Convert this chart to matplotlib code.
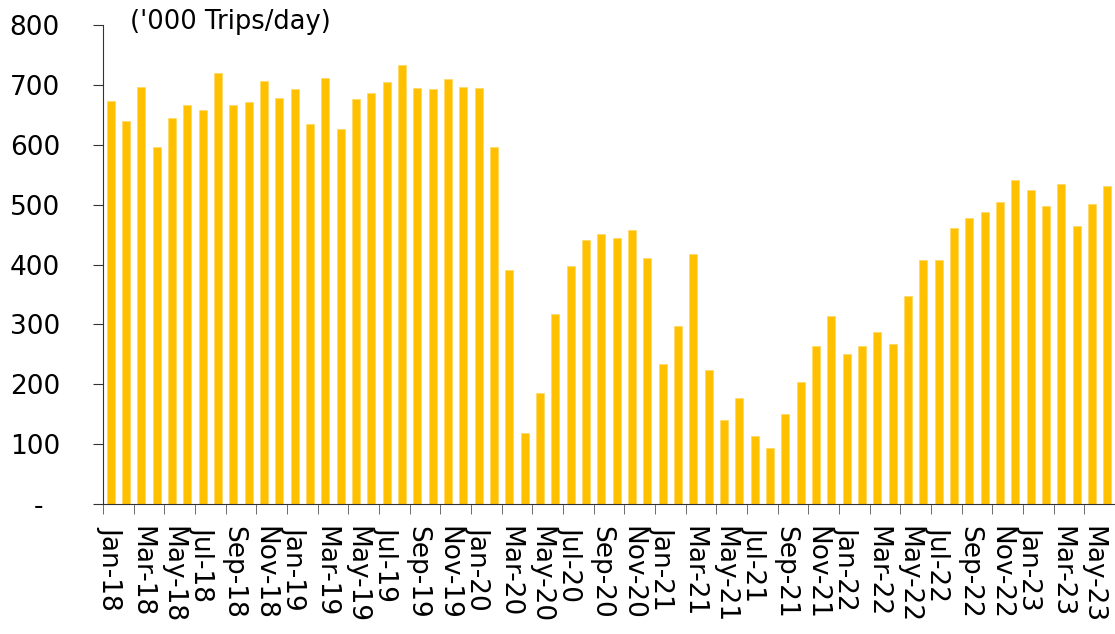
import matplotlib.pyplot as plt
import numpy as np

months = ["Jan", "Feb", "Mar", "Apr", "May", "Jun", "Jul", "Aug", "Sep", "Oct", "Nov", "Dec"]
labels = [f"{m}-{y}" for y in range(18, 24) for m in months][:66]

trips = [673, 639, 696, 596, 644, 667, 658, 719, 666, 671, 706, 678,
         693, 634, 711, 626, 677, 687, 705, 733, 694, 693, 710, 696,
         695, 597, 391, 118, 185, 317, 397, 441, 451, 445, 457, 411,
         234, 297, 417, 224, 140, 177, 114, 94, 151, 204, 264, 314,
         251, 264, 288, 268, 348, 408, 408, 461, 477, 487, 504, 541,
         524, 498, 534, 464, 501, 531]

x = np.arange(len(trips))

fig = plt.figure(figsize=(11.15, 6.34), dpi=100)
ax = fig.add_axes([0.0924, 0.205, 0.9076, 0.7556])

ax.bar(x, trips, width=0.52, color="#FFC000", edgecolor="#FFD966", linewidth=0.6)

ax.set_xlim(-0.5, 65.2)
ax.set_ylim(0, 800)

# zero shown as "-" like an accounting format
ax.set_yticks(np.arange(0, 801, 100))
ax.set_yticklabels(["-  "] + [str(v) for v in range(100, 801, 100)], fontsize=19)

ax.set_xticks(x[::2])
ax.set_xticklabels(labels[::2], rotation=270, fontsize=19)
ax.set_xticks(np.arange(-0.5, 66, 2), minor=True)
ax.tick_params(axis="x", which="major", length=0, pad=16)
ax.tick_params(axis="x", which="minor", length=7, direction="out", color="#555555")
ax.tick_params(axis="y", length=7, direction="out", color="#333333", pad=24)

for s in ["top", "right"]:
    ax.spines[s].set_visible(False)
ax.spines["left"].set_color("#333333")
ax.spines["bottom"].set_color("#333333")

ax.text(0.027, 1.006, "('000 Trips/day)", transform=ax.transAxes, fontsize=18.5,
        ha="left", va="center")

fig.savefig("out.png", dpi=100)
